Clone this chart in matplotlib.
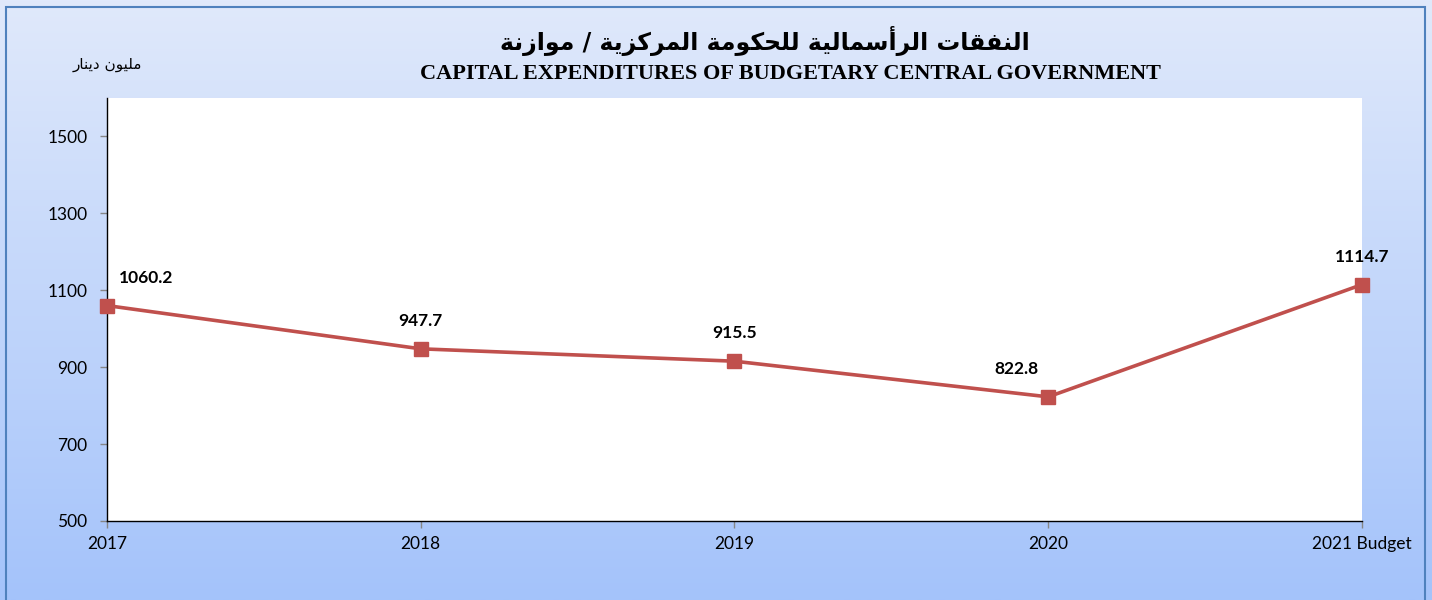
import numpy as np
import matplotlib
matplotlib.use("Agg")
import matplotlib.pyplot as plt
from matplotlib.patches import Rectangle

years = ["2017", "2018", "2019", "2020", "2021 Budget"]
values = [1060.2, 947.7, 915.5, 822.8, 1114.7]
label_offsets = [(28, 20), (0, 20), (0, 20), (-23, 20), (0, 20)]
yticks = [500, 700, 900, 1100, 1300, 1500]

title_ar = "النفقات الرأسمالية للحكومة المركزية / موازنة"
title_en = "CAPITAL EXPENDITURES OF BUDGETARY CENTRAL GOVERNMENT"
unit_ar = "مليون دينار"

# presentation forms: letter -> (first form code, number of forms)
AR_FORMS = {
    'ا': (0xFE8D, 2), 'أ': (0xFE83, 2), 'إ': (0xFE87, 2), 'آ': (0xFE81, 2),
    'ب': (0xFE8F, 4), 'ة': (0xFE93, 2), 'ت': (0xFE95, 4), 'ث': (0xFE99, 4),
    'ج': (0xFE9D, 4), 'ح': (0xFEA1, 4), 'خ': (0xFEA5, 4), 'د': (0xFEA9, 2),
    'ذ': (0xFEAB, 2), 'ر': (0xFEAD, 2), 'ز': (0xFEAF, 2), 'س': (0xFEB1, 4),
    'ش': (0xFEB5, 4), 'ص': (0xFEB9, 4), 'ض': (0xFEBD, 4), 'ط': (0xFEC1, 4),
    'ظ': (0xFEC5, 4), 'ع': (0xFEC9, 4), 'غ': (0xFECD, 4), 'ف': (0xFED1, 4),
    'ق': (0xFED5, 4), 'ك': (0xFED9, 4), 'ل': (0xFEDD, 4), 'م': (0xFEE1, 4),
    'ن': (0xFEE5, 4), 'ه': (0xFEE9, 4), 'و': (0xFEED, 2), 'ى': (0xFEEF, 2),
    'ي': (0xFEF1, 4),
}


def shape_ar(text):
    """Join arabic letters and put them in visual order (matplotlib has no shaping)."""
    out = []
    for i, c in enumerate(text):
        if c not in AR_FORMS:
            out.append(c)
            continue
        base, n = AR_FORMS[c]
        prev = i > 0 and text[i - 1] in AR_FORMS and AR_FORMS[text[i - 1]][1] == 4
        nxt = n == 4 and i + 1 < len(text) and text[i + 1] in AR_FORMS
        if prev and nxt:
            form = 3
        elif prev:
            form = 1
        elif nxt:
            form = 2
        else:
            form = 0
        out.append(chr(base + form))
    return "".join(out[::-1])


fig = plt.figure(figsize=(14.32, 6), dpi=100)

# gradient background
bg = fig.add_axes([0, 0, 1, 1], zorder=0)
grad = np.linspace(0, 1, 256).reshape(-1, 1)
top = np.array([224, 233, 251]) / 255
bot = np.array([164, 195, 250]) / 255
img = top + grad[:, :, None] * (bot - top)
bg.imshow(img, aspect="auto", extent=[0, 1, 0, 1])
bg.set_xlim(0, 1)
bg.set_ylim(0, 1)
bg.axis("off")
fig.patches.append(Rectangle((0.0045, -0.01), 0.9905, 0.998, transform=fig.transFigure,
                             fill=False, edgecolor="#4F81BD", linewidth=1.5, zorder=1))

ax = fig.add_axes([0.0747, 0.1317, 0.8764, 0.705], zorder=2)
ax.set_facecolor("white")
x = np.arange(len(years))
ax.plot(x, values, color="#C0504D", linewidth=2.6, marker="s", markersize=10,
        markerfacecolor="#C0504D", markeredgecolor="#C0504D", clip_on=False, zorder=3)

for xi, v, (dx, dy) in zip(x, values, label_offsets):
    ax.annotate(f"{v:.1f}", (xi, v), xytext=(dx, dy), textcoords="offset points",
                ha="center", va="center", fontsize=12.5, fontweight="bold",
                family="Lato", color="black")

ax.set_xlim(0, len(years) - 1)
ax.set_ylim(500, 1600)
ax.set_yticks(yticks)
ax.set_xticks(x)
ax.set_xticklabels(years)
ax.tick_params(axis="both", direction="out", length=5, color="#868686", width=1,
               labelsize=12.5, labelcolor="black")
ax.tick_params(axis="x", pad=6)
ax.tick_params(axis="y", pad=9)
for lab in ax.get_xticklabels() + ax.get_yticklabels():
    lab.set_family("Lato")
for s in ["top", "right"]:
    ax.spines[s].set_visible(False)
for s in ["left", "bottom"]:
    ax.spines[s].set_color("black")
    ax.spines[s].set_linewidth(1)

fig.text(0.534, 0.932, shape_ar(title_ar), ha="center", va="center",
         fontsize=17, fontweight="bold", family="DejaVu Sans")
fig.text(0.552, 0.877, title_en, ha="center", va="center",
         fontsize=16, fontweight="bold", family="Liberation Serif")
fig.text(0.075, 0.892, shape_ar(unit_ar), ha="center", va="center",
         fontsize=11, family="DejaVu Sans")

fig.savefig("out.png", dpi=100)
